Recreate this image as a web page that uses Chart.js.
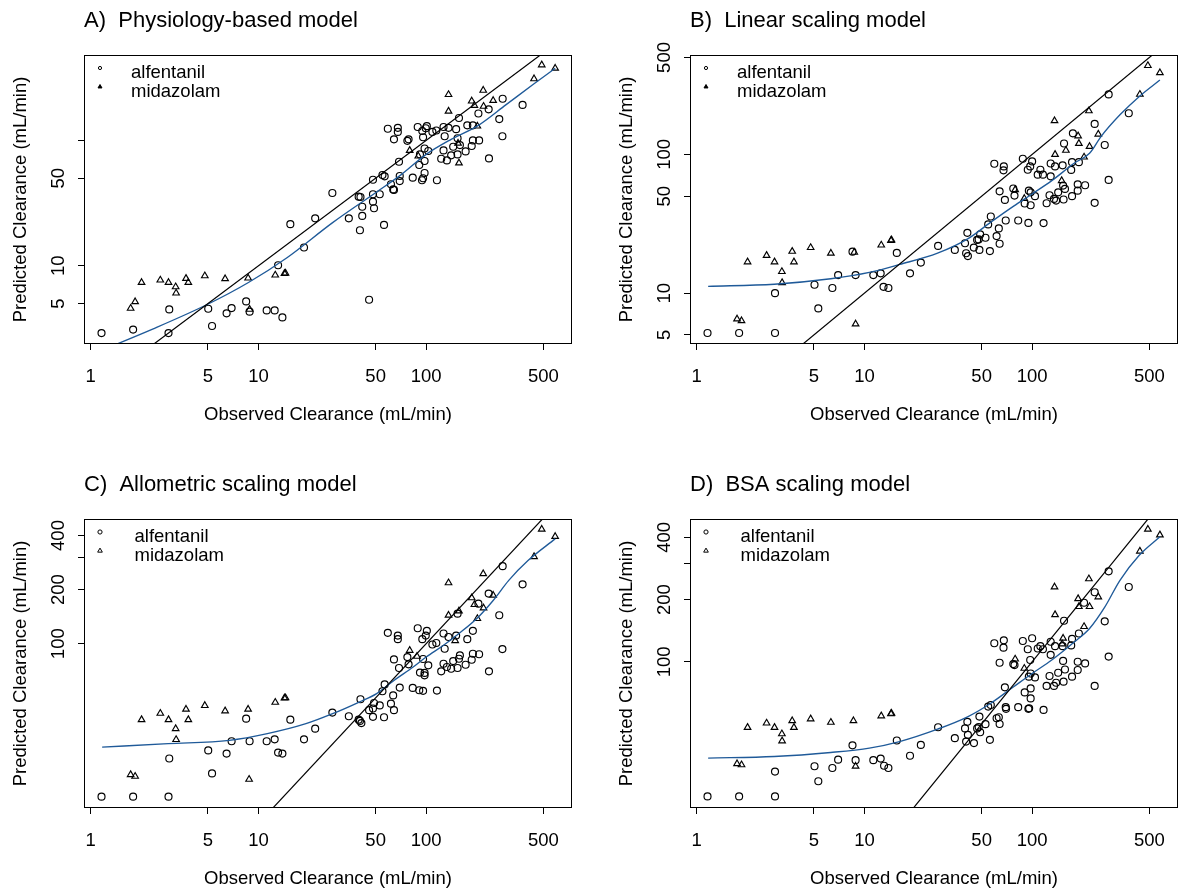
<!DOCTYPE html>
<html>
<head>
<meta charset="utf-8">
<title>Observed vs predicted clearance</title>
<script src="https://cdn.jsdelivr.net/npm/chart.js@4.4.1/dist/chart.umd.min.js"></script>
<style>
  html, body { margin: 0; padding: 0; background: #fff; }
  body { position: relative; width: 1191px; height: 895px; overflow: hidden; }
  canvas { position: absolute; }
</style>
</head>
<body>
<canvas id="panelA" width="592" height="430" style="left:0px;top:0px"></canvas>
<canvas id="panelB" width="592" height="430" style="left:606px;top:0px"></canvas>
<canvas id="panelC" width="592" height="430" style="left:0px;top:464px"></canvas>
<canvas id="panelD" width="592" height="430" style="left:606px;top:464px"></canvas>
<script>
// ---- shared observed-clearance axis ----
const xTicks = [1, 5, 10, 50, 100, 500];
const xTickLabels = ['1', '5', '10', '50', '100', '500'];
const xRange = [0.912, 741];
const identityLine = [0.5, 1000];

// ---- A) Physiology-based model ----
const physAlfObs = [1.16,1.79,2.91,2.94,5.02,5.29,6.46,6.92,8.45,8.86,11.2,12.5,13.1,13.9,18.7,15.5,21.8,27.6,34.6,40.3,41.6,41.6,39.6,40.6,45.7,48.2,48.2,48.2,48.9,52.9,56.1,54.9,56.6,61.7,63.6,64.3,69.6,69.6,68.9,59.1,67.8,67.8,64.3,77.3,78.6,83.2,89.1,94.9,95.9,99.5,101,97.9,91.9,91,97.9,103,97.9,95.9,94.5,116,109,115,127,129,136,123,127,133,141,145,151,154,154,157,159,172,176,190,187,190,205,207,236,237,273,286,285,376];
const physAlfPred = [2.91,3.1,2.91,4.49,4.55,3.31,4.18,4.6,5.2,4.31,4.41,4.41,10.1,3.88,14.0,21.5,23.9,38.1,23.9,19.2,25.0,29.6,35.6,35.4,5.36,48.6,37.2,32.5,28.8,37.2,21.2,53.0,51.7,44.7,40.7,40.3,47.4,52.0,67.6,124,126,117,102,99.3,102,50.5,128,119,106,125,130,86.3,77.4,63.7,68.5,82.3,55.0,49.9,48.1,48.1,117,120,128,108,126,71.4,83.2,69.3,76,89.1,123,104,77.4,151,91.8,81.7,132,132,90.2,100,164,100,177,71.9,148,215,108,192];
const physMidObs = [1.73,1.84,2.01,2.60,2.91,3.21,3.23,3.70,3.82,4.79,6.33,8.68,8.86,12.6,14.3,14.5,79.8,89.8,136,136,155,157,187,194,202,219,220,251,440,489,588];
const physMidPred = [4.58,5.17,7.36,7.69,7.36,6.8,6.06,7.93,7.36,8.32,7.88,7.98,4.5,8.43,8.69,8.74,83.2,75,232,171,95,66.1,206,190,130,251,187,208,310,400,376];
const physSmoothObs = [1.16,2.34,5.02,8.72,14.8,27.7,50.7,71.4,100,141,205,300,440,588];
const physSmoothPred = [2.12,3.13,4.96,7.36,11.6,22.1,38.8,53.6,77.4,102,132,193,283,376];
const physYTicks = [5, 10, 50, 100];
const physYLabels = ['5', '10', '50', ''];

// ---- B) Linear scaling model ----
const linAlfObs = [1.16,1.79,2.93,2.93,5.04,5.31,6.44,6.97,8.49,8.86,11.3,12.5,13.0,13.9,15.6,18.7,21.7,27.5,34.6,39.8,41.1,40.4,41.4,44.9,47.0,48.5,48,49,52.7,54.7,56.7,56,61.4,63.3,64,59.5,67.8,67.5,64,68.8,69.6,77.2,78.5,82.6,88,94.2,97.4,100,95.6,98,95,90.3,98,104,108,112,116,122,117,127,129,129,135,139,143,137,152,155,153,157,154,171,173,173,175,187,187,190,207,236,236,271,286,286,377];
const linAlfPred = [5.16,5.16,5.16,10,11.5,7.76,10.9,13.5,19.9,13.5,13.5,13.9,11.1,10.9,19.5,13.9,16.6,21.9,20.5,22.9,27.2,19.4,18.5,21.3,24.2,20.5,24.4,26.5,25.1,31.3,35.7,20.1,25.8,29.3,22.7,85.7,82,76.8,54.2,47,33.4,56.8,50.5,33.4,93.1,77.6,82,89.1,54.8,53.3,32.1,44.3,43,50,71.5,77.6,71.5,44.5,32,50.8,86.1,69.5,47.8,46.5,53.3,82,83.4,120,59.6,56.4,47.3,77.3,88,50,142,60.9,54.8,88,60,166,44.8,117,271,65.5,198];
const linMidObs = [1.74,1.85,2.01,2.61,2.91,3.22,3.23,3.71,3.8,4.78,6.31,8.7,8.86,12.6,14.4,14.5,79.2,89.8,136,137,150,159,188,190,204,218,220,248,439,490,578];
const linMidPred = [6.51,6.32,16.8,18.7,16.8,14.3,11.9,20,16.8,21.3,19.4,19.7,5.99,22.2,24,24.2,55.7,48.1,175,100,64.7,107,136,120,95.7,206,114,140,271,437,388];
const linSmoothObs = [1.17,2.9,6.3,10.7,16.2,27.3,41.5,56.7,77.6,100,131,179,220,258,334,434,578];
const linSmoothPred = [11.2,11.6,12.7,14.1,16.1,19.4,24.7,32.5,42.4,51.9,64.7,86.7,102,135,193,261,344];
const linYTicks = [5, 10, 50, 100, 500];
const linYLabels = ['5', '10', '50', '100', '500'];

// ---- C) Allometric scaling model ----
const alloAlfObs = [1.16,1.79,2.91,2.94,5.02,5.29,6.46,6.92,8.45,8.86,11.2,12.5,13.1,13.9,15.5,18.7,21.8,27.6,34.6,39.6,40.3,41.1,40.6,45.7,48.2,48.9,48.2,52.9,56.1,54.9,56.6,61.7,63.6,64.3,69.6,68.9,59.1,67.8,67.8,64.3,77.3,78.6,83.2,89.1,94.9,95.9,99.5,101,97.9,91.9,91,97.9,103,95.9,116,109,115,127,129,136,123,127,133,141,145,151,154,154,157,159,172,176,190,187,190,205,207,236,237,273,286,285,376];
const alloAlfPred = [14.1,14.1,14.1,23,25.5,19,24.5,28.7,38.3,28.7,28.7,29.4,24.8,24.5,37.8,29.4,33.7,41.4,39.5,37.8,37.2,36.2,49.1,42.7,43.6,46.8,39.2,45.4,39,54.4,59.4,46.4,51.6,42.7,57,73.3,115,111,106,81.8,84.3,76.8,56.8,122,106,82.2,111,118,68.8,69.1,55.1,66.7,75.8,54.7,54.9,99,101,114,93.8,109,70.2,77.4,74.2,72.6,80.1,111,147,73.3,82.5,86.1,76.4,106,118,81.5,88,167,87.4,190,70.2,144,270,93.4,214];
const alloMidObs = [1.73,1.84,2.01,2.6,2.91,3.21,3.23,3.7,3.82,4.79,6.33,8.68,8.8,12.6,14.3,14.5,79.8,88.2,136,136,149,157,187,194,202,219,220,251,440,489,588];
const alloMidPred = [18.7,18.3,37.8,41,37.8,33.7,29.3,43.2,37.8,45.3,42.3,43.2,17.6,47.2,49.9,50,91.8,85.1,218,144,104,152,180,165,138,245,158,186,305,433,395];
const alloSmoothObs = [1.17,2.9,6.7,11.3,19.2,27.7,40.2,50.7,64.3,83.7,100,127,157,205,251,311,405,588];
const alloSmoothPred = [26.6,27.8,29,31.6,35.9,40.8,47.5,52.8,62.5,74.2,84.3,98,114,141,174,225,290,383];
const alloYTicks = [100, 200, 300, 400];
const alloYLabels = ['100', '200', '', '400'];

// ---- D) BSA scaling model ----
const bsaAlfObs = [1.16,1.79,2.93,2.93,5.04,5.31,6.44,6.97,8.49,8.86,11.3,12.5,13.1,13.9,15.6,18.7,21.7,27.5,34.6,39.8,41.1,40.4,41.4,45,47,48.5,48,49,52.7,54.7,56.7,56,61.4,63.3,64,59.5,67.8,67.5,64,68.8,69.6,69.9,77.2,78.5,82.6,88,94.2,97.4,100,95.6,98,95,96,90.3,98,98,104,108,112,116,122,117,127,129,129,135,139,143,137,152,155,153,157,154,171,173,173,187,187,190,207,204,236,236,271,286,286,377];
const bsaAlfPred = [22.3,22.3,22.3,29.4,31.2,26.4,30.6,33.6,39.4,33.4,33.4,34,31.4,30.6,41.6,35.1,39.6,48.2,42.7,47.6,51.2,41.1,44.3,40.4,47.6,54.3,48.3,45.6,49.9,60.7,61.8,41.9,53.3,53.9,50,123,127,117,98.9,75.2,60.3,59.2,97.5,96.4,60.3,126,115,102,130,84.7,87.8,59.2,59.6,71.1,74.3,66.5,84,116,119,115,76.4,58.5,85.3,125,108,76.4,79.2,88.5,119,119,158,101,91.8,80.1,120,129,84.7,100,91.2,137,98.2,193,217,76.4,157,274,106,230];
const bsaMidObs = [1.74,1.85,2.01,2.61,2.91,3.22,3.23,3.71,3.8,4.78,6.31,8.6,8.86,12.6,14.4,14.5,79.2,89.8,136,137,151,153,188,190,204,218,220,248,439,490,578];
const bsaMidPred = [32.1,31.7,48.1,50.5,48.1,44.8,41.4,51.8,48.1,52.9,50.9,51.8,31.2,54.7,56,56.3,103,92.9,230,169,122,130,202,185,148,252,185,206,343,438,411];
const bsaSmoothObs = [1.17,2.9,6.3,10.7,16.2,27.3,41.5,56.7,77.6,100,131,179,220,271,334,434,578];
const bsaSmoothPred = [34.2,34.8,36.4,38.2,41.1,47.2,54.3,63,75.7,87.8,102,125,145,184,248,327,403];
const bsaYTicks = [100, 200, 300, 400];
const bsaYLabels = ['100', '200', '', '400'];

// ---- drawing ----
const FONT = '"Liberation Sans", Arial, Helvetica, sans-serif';
const TEXT_SIZE = 18.5;
const SMOOTH_COLOR = '#1f5a99';

function pairs(xs, ys) { return xs.map((x, i) => ({ x, y: ys[i] })); }

function drawSymbol(ctx, style, x, y, r, filled) {
  ctx.beginPath();
  if (style === 'circle') {
    ctx.arc(x, y, r, 0, Math.PI * 2);
  } else {
    const s = Math.sin(Math.PI * 2 / 3), c = Math.cos(Math.PI * 2 / 3);
    ctx.moveTo(x, y - r);
    ctx.lineTo(x + s * r, y - c * r);
    ctx.lineTo(x - s * r, y - c * r);
    ctx.closePath();
  }
  if (filled) { ctx.fillStyle = '#000'; ctx.fill(); }
  ctx.strokeStyle = '#000';
  ctx.lineWidth = 1;
  ctx.stroke();
}

// frame, panel heading and symbol key drawn inside the plot region
const panelDecor = {
  id: 'panelDecor',
  afterDraw(chart, args, opts) {
    const { ctx, chartArea: a } = chart;
    ctx.save();
    ctx.strokeStyle = '#000';
    ctx.lineWidth = 1;
    ctx.strokeRect(a.left + 0.5, a.top + 0.5, a.width - 1, a.height - 1);

    ctx.fillStyle = '#000';
    ctx.textAlign = 'left';
    ctx.textBaseline = 'alphabetic';
    ctx.font = `22px ${FONT}`;
    ctx.fillText(opts.heading, a.left, a.top - 28.5);

    ctx.font = `${TEXT_SIZE}px ${FONT}`;
    const keyed = chart.data.datasets.filter(d => d.keyStyle);
    keyed.forEach((d, i) => {
      const ks = opts.compactKey ? d.keyStyle.compact : d.keyStyle.full;
      drawSymbol(ctx, d.pointStyle, a.left + 16, a.top + 13 + i * 18.8, ks.r, ks.filled);
      ctx.fillStyle = '#000';
      ctx.fillText(d.label, a.left + opts.keyTextX, a.top + 22.6 + i * 19);
    });
    ctx.restore();
  }
};

function buildPanel(canvasId, p) {
  const font = { family: FONT, size: TEXT_SIZE };
  const datasets = [
    { label: 'y = x', data: pairs(identityLine, identityLine), showLine: true,
      borderColor: '#000', borderWidth: 1.2, pointRadius: 0, fill: false },
    { label: 'smooth', data: pairs(p.smoothObs, p.smoothPred), showLine: true,
      borderColor: SMOOTH_COLOR, borderWidth: 1.35, pointRadius: 0, fill: false,
      cubicInterpolationMode: 'monotone' },
    { label: 'alfentanil', data: pairs(p.alfObs, p.alfPred), pointStyle: 'circle',
      pointRadius: 3.5, pointBorderWidth: 1.15, pointBorderColor: '#000',
      pointBackgroundColor: 'rgba(0,0,0,0)', showLine: false,
      keyStyle: { compact: { r: 1.6, filled: false }, full: { r: 2.1, filled: false } } },
    { label: 'midazolam', data: pairs(p.midObs, p.midPred), pointStyle: 'triangle',
      pointRadius: 3.8, pointBorderWidth: 1.15, pointBorderColor: '#000',
      pointBackgroundColor: 'rgba(0,0,0,0)', showLine: false,
      keyStyle: { compact: { r: 2.3, filled: true }, full: { r: 2.7, filled: false } } }
  ];

  return new Chart(document.getElementById(canvasId), {
    type: 'scatter',
    data: { datasets },
    plugins: [panelDecor],
    options: {
      responsive: false,
      animation: false,
      events: [],
      layout: { autoPadding: false, padding: { top: 55, right: 20, bottom: 0, left: 0 } },
      plugins: {
        legend: { display: false },
        tooltip: { enabled: false },
        panelDecor: { heading: p.heading, compactKey: p.compactKey, keyTextX: p.keyTextX }
      },
      scales: {
        x: {
          type: 'logarithmic', min: xRange[0], max: xRange[1], bounds: 'data',
          afterBuildTicks: s => { s.ticks = xTicks.map(v => ({ value: v })); },
          afterFit: s => { s.height = 86; },
          ticks: { autoSkip: false, minRotation: 0, maxRotation: 0, padding: 15.6,
                   color: '#000', font, callback: (v, i) => xTickLabels[i] },
          grid: { drawOnChartArea: false, drawTicks: true, tickLength: 6, color: '#000', lineWidth: 1 },
          border: { display: false },
          title: { display: true, text: 'Observed Clearance (mL/min)', color: '#000', font,
                   padding: { top: 0, bottom: 3.9 } }
        },
        y: {
          type: 'logarithmic', min: p.yRange[0], max: p.yRange[1], bounds: 'data',
          afterBuildTicks: s => { s.ticks = p.yTicks.map(v => ({ value: v })); },
          afterFit: s => { s.width = 84; },
          ticks: { autoSkip: false, minRotation: 90, maxRotation: 90, crossAlign: 'center',
                   padding: p.yTickPad, color: '#000', font, callback: (v, i) => p.yLabels[i] },
          grid: { drawOnChartArea: false, drawTicks: true, tickLength: 6, color: '#000', lineWidth: 1 },
          border: { display: false },
          title: { display: true, text: 'Predicted Clearance (mL/min)', color: '#000', font,
                   padding: { top: 9.9, bottom: 0 } }
        }
      }
    }
  });
}

buildPanel('panelA', {
  heading: 'A)  Physiology-based model', compactKey: true, keyTextX: 47,
  alfObs: physAlfObs, alfPred: physAlfPred, midObs: physMidObs, midPred: physMidPred,
  smoothObs: physSmoothObs, smoothPred: physSmoothPred,
  yRange: [2.38, 480], yTicks: physYTicks, yLabels: physYLabels, yTickPad: 8.4
});
buildPanel('panelB', {
  heading: 'B)  Linear scaling model', compactKey: true, keyTextX: 47,
  alfObs: linAlfObs, alfPred: linAlfPred, midObs: linMidObs, midPred: linMidPred,
  smoothObs: linSmoothObs, smoothPred: linSmoothPred,
  yRange: [4.3, 521], yTicks: linYTicks, yLabels: linYLabels, yTickPad: 3.3
});
buildPanel('panelC', {
  heading: 'C)  Allometric scaling model', compactKey: false, keyTextX: 50.5,
  alfObs: alloAlfObs, alfPred: alloAlfPred, midObs: alloMidObs, midPred: alloMidPred,
  smoothObs: alloSmoothObs, smoothPred: alloSmoothPred,
  yRange: [12.2, 494], yTicks: alloYTicks, yLabels: alloYLabels, yTickPad: 3.3
});
buildPanel('panelD', {
  heading: 'D)  BSA scaling model', compactKey: false, keyTextX: 50.5,
  alfObs: bsaAlfObs, alfPred: bsaAlfPred, midObs: bsaMidObs, midPred: bsaMidPred,
  smoothObs: bsaSmoothObs, smoothPred: bsaSmoothPred,
  yRange: [19.6, 491], yTicks: bsaYTicks, yLabels: bsaYLabels, yTickPad: 3.3
});
</script>
</body>
</html>
